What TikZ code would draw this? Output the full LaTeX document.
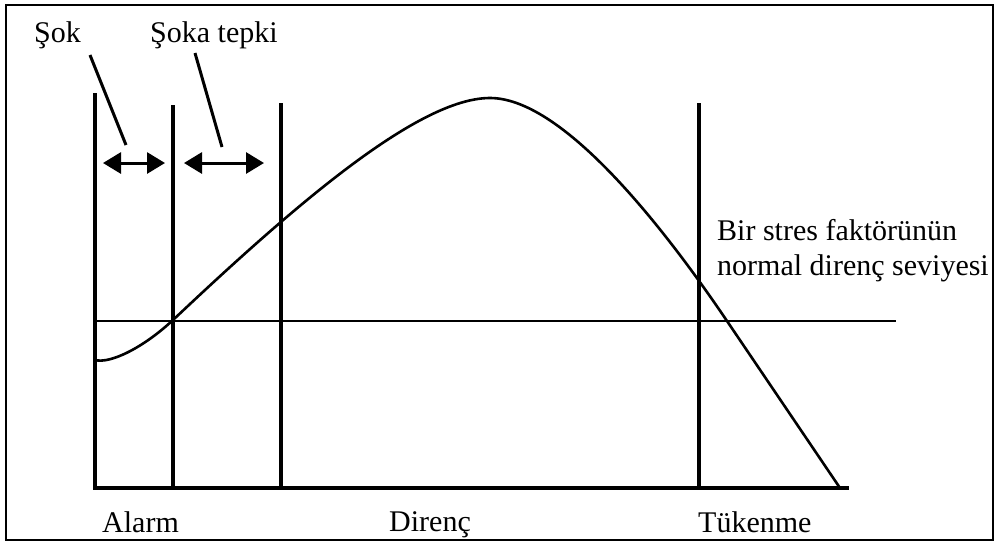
\documentclass[tikz,border=0pt]{standalone}
\usepackage{fontspec}
\setmainfont{Liberation Serif}
\usetikzlibrary{arrows.meta}
\begin{document}
\begin{tikzpicture}[x=1pt,y=-1pt,
  lbl/.style={font=\fontsize{30}{36}\selectfont, inner sep=0pt, anchor=base west},
  phase/.style={line width=3.3pt},
  level/.style={line width=2.4pt},
  curve/.style={line width=2.6pt, line join=round},
  leader/.style={line width=3pt},
  span/.style={line width=3pt, {Triangle[length=18pt,width=21pt]}-{Triangle[length=18pt,width=21pt]}}]
\useasboundingbox (0,0) rectangle (998,544);
\draw[line width=2.5pt] (6,5) rectangle (993,540);
% structural coordinates
\coordinate (v1t) at (95,93);  \coordinate (v1b) at (95,488);
\coordinate (v2t) at (173,105); \coordinate (v2b) at (173,488);
\coordinate (v3t) at (281,103); \coordinate (v3b) at (281,488);
\coordinate (v4t) at (699,103); \coordinate (v4b) at (699,488);
\coordinate (axr) at (849,488);
\coordinate (lvl) at (95,321); \coordinate (lvr) at (896,321);
% axes and phase lines
\draw[phase] (v1t) -- (v1b) -- (axr);
\draw[phase] (v2t) -- (v2b);
\draw[phase] (v3t) -- (v3b);
\draw[phase] (v4t) -- (v4b);
\draw[level] (lvl) -- (lvr);
% resistance curve
\coordinate (c0) at (95,360);
\coordinate (c1) at (173,320);
\coordinate (c2) at (490,98);
\coordinate (c3) at (727,321);
\coordinate (c4) at (840,488);
\draw[curve] (c0) .. controls (110,364) and (143,348) .. (c1)
  .. controls (300,200) and (420,98) .. (c2)
  .. controls (560,98) and (657,217.5) .. (c3) -- (c4);
% labels
\node[lbl] (sok) at (34,42) {Şok};
\node[lbl] (tepki) at (150,42) {Şoka tepki};
\node[lbl] (bir) at (717,240) {Bir stres faktörünün};
\node[lbl] (norm) at (717,275) {normal direnç seviyesi};
\node[lbl] (alarm) at (102,532) {Alarm};
\node[lbl] (direnc) at (389,531) {Direnç};
\node[lbl] (tuk) at (698,532) {Tükenme};
% leaders and spans
\coordinate (l1a) at (90,55);  \coordinate (l1b) at (126,145);
\coordinate (l2a) at (195,53); \coordinate (l2b) at (222,147);
\draw[leader] (l1a) -- (l1b);
\draw[leader] (l2a) -- (l2b);
\coordinate (a1l) at (103,163); \coordinate (a1r) at (165,163);
\coordinate (a2l) at (184,163); \coordinate (a2r) at (264,163);
\draw[span] (a1l) -- (a1r);
\draw[span] (a2l) -- (a2r);
\end{tikzpicture}
\end{document}
